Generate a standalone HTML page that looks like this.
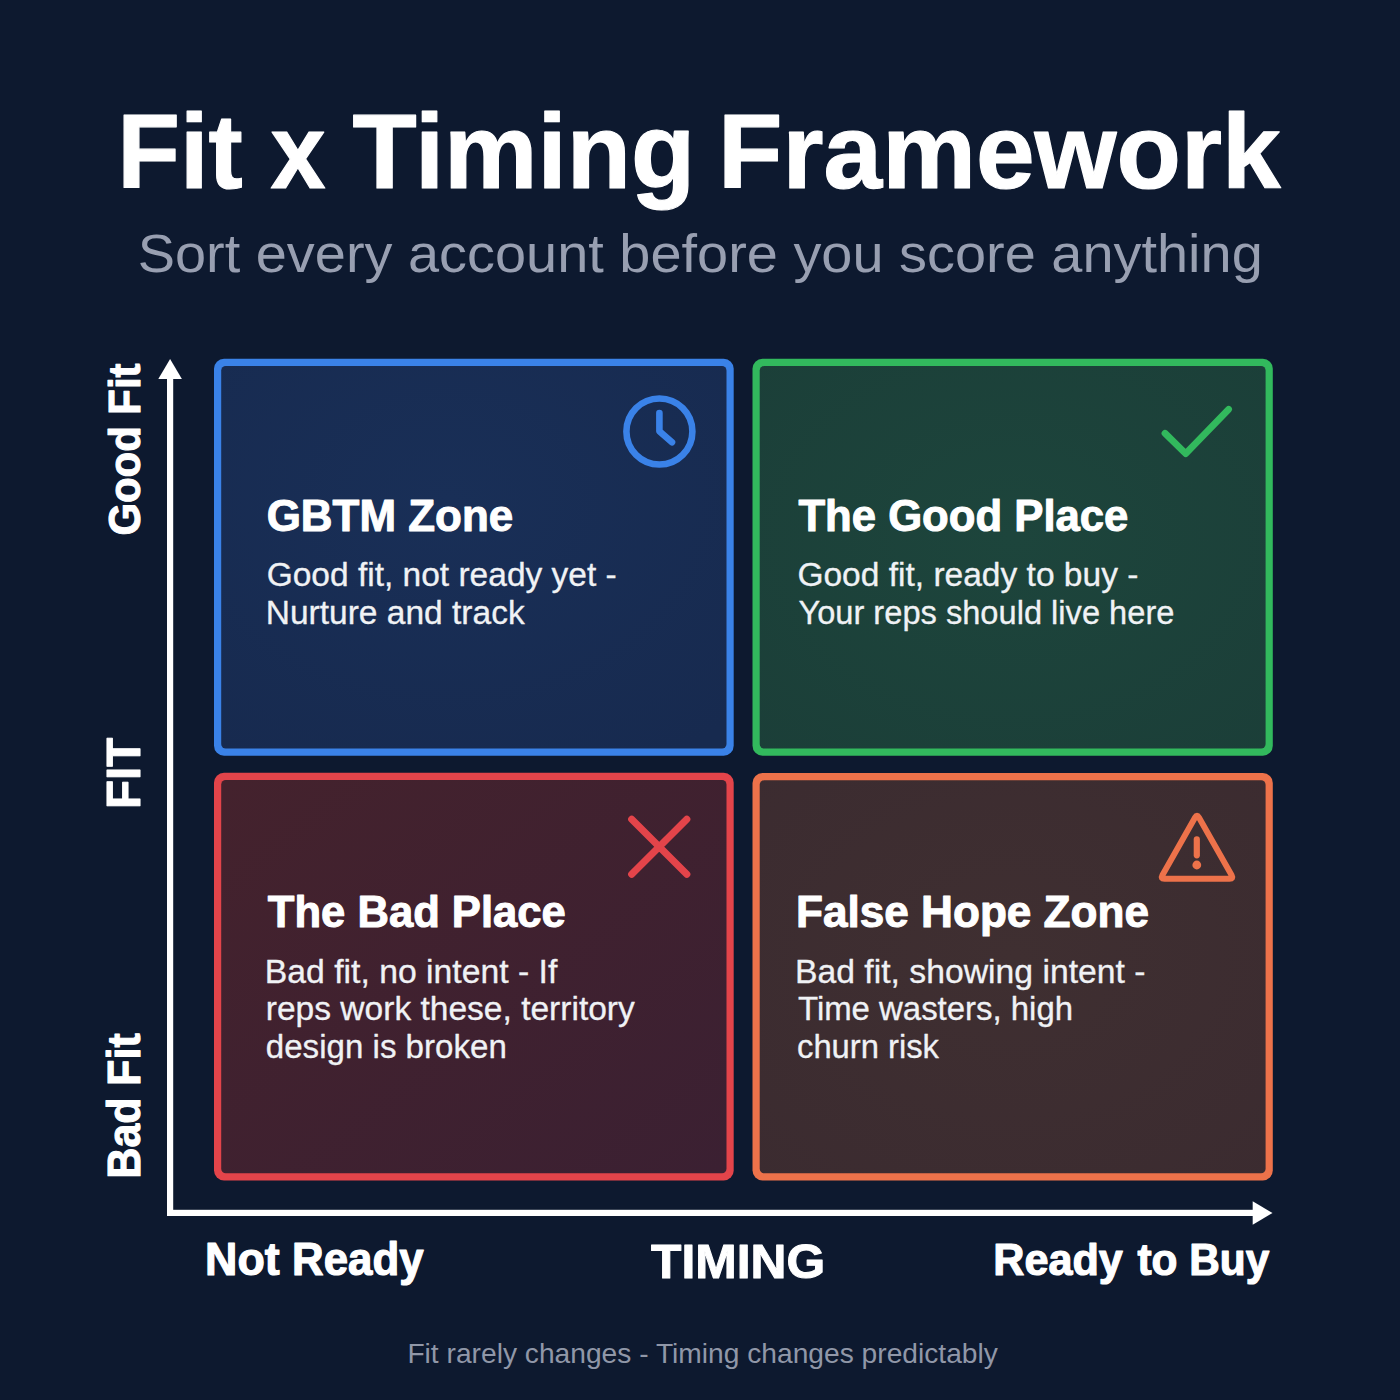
<!DOCTYPE html>
<html><head><meta charset="utf-8"><title>Fit x Timing Framework</title>
<style>
html,body{margin:0;padding:0;background:#0d192f;}
body{width:1400px;height:1400px;overflow:hidden;font-family:"Liberation Sans",sans-serif;}
svg{display:block;font-family:"Liberation Sans",sans-serif;}
</style></head><body>
<svg width="1400" height="1400" viewBox="0 0 1400 1400">
<defs>
<radialGradient id="gb" cx="0.45" cy="0.35" r="0.8"><stop offset="0" stop-color="#192f57"/><stop offset="1" stop-color="#172a4f"/></radialGradient>
<radialGradient id="gg" cx="0.5" cy="0.45" r="0.8"><stop offset="0" stop-color="#1d453c"/><stop offset="1" stop-color="#1b3e38"/></radialGradient>
<linearGradient id="gr" x1="0" y1="0" x2="1" y2="1"><stop offset="0" stop-color="#44222d"/><stop offset="1" stop-color="#3b2032"/></linearGradient>
<radialGradient id="go" cx="0.5" cy="0.45" r="0.8"><stop offset="0" stop-color="#3f2f31"/><stop offset="1" stop-color="#3b2b30"/></radialGradient>
</defs>
<rect width="1400" height="1400" fill="#0d192f"/>
<rect x="214" y="358.8" width="519.7" height="396.9" rx="10" ry="10" fill="#3a82e8"/><rect x="221.2" y="366.0" width="505.3" height="382.5" rx="4.5" ry="4.5" fill="url(#gb)"/>
<rect x="752.5" y="358.8" width="520.3" height="396.9" rx="10" ry="10" fill="#32b95d"/><rect x="759.7" y="366.0" width="505.9" height="382.5" rx="4.5" ry="4.5" fill="url(#gg)"/>
<rect x="214" y="772.8" width="519.7" height="407.6" rx="10" ry="10" fill="#e3444a"/><rect x="221.2" y="780.0" width="505.3" height="393.2" rx="4.5" ry="4.5" fill="url(#gr)"/>
<rect x="752.5" y="773" width="520.3" height="407.4" rx="10" ry="10" fill="#ed724a"/><rect x="759.7" y="780.2" width="505.9" height="393.0" rx="4.5" ry="4.5" fill="url(#go)"/>
<g fill="#ffffff">
<rect x="167" y="375" width="6.2" height="841"/>
<rect x="167" y="1209.8" width="1088" height="6.2"/>
<path d="M170.1 358.9 L181.9 379 L158.3 379 Z"/>
<path d="M1272.5 1213 L1252.7 1201.3 L1252.7 1224.7 Z"/>
</g>
<g fill="none" stroke-linecap="round" stroke-linejoin="round" stroke-width="6.6">
<circle cx="659.4" cy="431.5" r="33" stroke="#3a82e8"/>
<path d="M659.4 413 V431.2 L672 442.3" stroke="#3a82e8"/>
<path d="M1165 433.3 L1185.7 453.6 L1228.6 409.3" stroke="#32b95d" stroke-width="6.8"/>
<path d="M631.7 819.2 L686.8 874.3 M686.8 819.2 L631.7 874.3" stroke="#e3444a" stroke-width="7.1"/>
<path d="M1195.05 817.49 Q1197 814 1198.95 817.49 L1231.65 875.31 Q1233.6 878.8 1229.6 878.8 L1164.4 878.8 Q1160.4 878.8 1162.35 875.31 Z" stroke="#ed724a" stroke-width="5.9"/>
<path d="M1196.8 839.4 V855.3" stroke="#ed724a" stroke-width="6.2"/>
</g>
<circle cx="1196.8" cy="865" r="4.4" fill="#ed724a"/>
<g>
<text x="117.3" y="187.6" font-size="105" font-weight="700" fill="#ffffff" textLength="125.38" lengthAdjust="spacingAndGlyphs" stroke="#ffffff" stroke-width="1.2" stroke-linejoin="round">Fit</text>
<text x="270.4" y="187.6" font-size="105" font-weight="700" fill="#ffffff" textLength="55.03" lengthAdjust="spacingAndGlyphs" stroke="#ffffff" stroke-width="1.2" stroke-linejoin="round">x</text>
<text x="352.6" y="187.6" font-size="105" font-weight="700" fill="#ffffff" textLength="342.64" lengthAdjust="spacingAndGlyphs" stroke="#ffffff" stroke-width="1.2" stroke-linejoin="round">Timing</text>
<text x="718.1" y="187.6" font-size="105" font-weight="700" fill="#ffffff" textLength="562.56" lengthAdjust="spacingAndGlyphs" stroke="#ffffff" stroke-width="1.2" stroke-linejoin="round">Framework</text>
<text x="137.7" y="272.0" font-size="54.5" font-weight="400" fill="#989fb1" textLength="1125.04" lengthAdjust="spacingAndGlyphs">Sort every account before you score anything</text>
<text x="266.7" y="531.0" font-size="43.5" font-weight="700" fill="#ffffff" textLength="246.52" lengthAdjust="spacingAndGlyphs" stroke="#ffffff" stroke-width="1.0" stroke-linejoin="round">GBTM Zone</text>
<text x="266.7" y="586.3" font-size="32.3" font-weight="400" fill="#f0f2f5" textLength="350.02" lengthAdjust="spacingAndGlyphs" stroke="#f0f2f5" stroke-width="0.3" stroke-linejoin="round">Good fit, not ready yet -</text>
<text x="265.7" y="624.3" font-size="32.3" font-weight="400" fill="#f0f2f5" textLength="259.03" lengthAdjust="spacingAndGlyphs" stroke="#f0f2f5" stroke-width="0.3" stroke-linejoin="round">Nurture and track</text>
<text x="798.4" y="530.5" font-size="43.5" font-weight="700" fill="#ffffff" textLength="330.0" lengthAdjust="spacingAndGlyphs" stroke="#ffffff" stroke-width="1.0" stroke-linejoin="round">The Good Place</text>
<text x="797.4" y="586.3" font-size="32.3" font-weight="400" fill="#f0f2f5" textLength="341.02" lengthAdjust="spacingAndGlyphs" stroke="#f0f2f5" stroke-width="0.3" stroke-linejoin="round">Good fit, ready to buy -</text>
<text x="798.4" y="624.3" font-size="32.3" font-weight="400" fill="#f0f2f5" textLength="376.01" lengthAdjust="spacingAndGlyphs" stroke="#f0f2f5" stroke-width="0.3" stroke-linejoin="round">Your reps should live here</text>
<text x="267.8" y="926.5" font-size="43.5" font-weight="700" fill="#ffffff" textLength="298.01" lengthAdjust="spacingAndGlyphs" stroke="#ffffff" stroke-width="1.0" stroke-linejoin="round">The Bad Place</text>
<text x="264.8" y="982.6" font-size="32.3" font-weight="400" fill="#f0f2f5" textLength="292.52" lengthAdjust="spacingAndGlyphs" stroke="#f0f2f5" stroke-width="0.3" stroke-linejoin="round">Bad fit, no intent - If</text>
<text x="265.8" y="1019.9" font-size="32.3" font-weight="400" fill="#f0f2f5" textLength="369.01" lengthAdjust="spacingAndGlyphs" stroke="#f0f2f5" stroke-width="0.3" stroke-linejoin="round">reps work these, territory</text>
<text x="265.8" y="1057.5" font-size="32.3" font-weight="400" fill="#f0f2f5" textLength="241.04" lengthAdjust="spacingAndGlyphs" stroke="#f0f2f5" stroke-width="0.3" stroke-linejoin="round">design is broken</text>
<text x="796.0" y="926.5" font-size="43.5" font-weight="700" fill="#ffffff" textLength="353.02" lengthAdjust="spacingAndGlyphs" stroke="#ffffff" stroke-width="1.0" stroke-linejoin="round">False Hope Zone</text>
<text x="795.0" y="982.6" font-size="32.3" font-weight="400" fill="#f0f2f5" textLength="350.54" lengthAdjust="spacingAndGlyphs" stroke="#f0f2f5" stroke-width="0.3" stroke-linejoin="round">Bad fit, showing intent -</text>
<text x="798.0" y="1019.9" font-size="32.3" font-weight="400" fill="#f0f2f5" textLength="275.01" lengthAdjust="spacingAndGlyphs" stroke="#f0f2f5" stroke-width="0.3" stroke-linejoin="round">Time wasters, high</text>
<text x="797.0" y="1057.5" font-size="32.3" font-weight="400" fill="#f0f2f5" textLength="142.01" lengthAdjust="spacingAndGlyphs" stroke="#f0f2f5" stroke-width="0.3" stroke-linejoin="round">churn risk</text>
<text x="0" y="0" transform="translate(139.6 535.5) rotate(-90)" font-size="45" font-weight="700" fill="#ffffff" textLength="172.01" lengthAdjust="spacingAndGlyphs" stroke="#ffffff" stroke-width="1.1" stroke-linejoin="round">Good Fit</text>
<text x="0" y="0" transform="translate(139.9 808.9) rotate(-90)" font-size="49" font-weight="700" fill="#ffffff" textLength="71.1" lengthAdjust="spacingAndGlyphs" stroke="#ffffff" stroke-width="1.0" stroke-linejoin="round">FIT</text>
<text x="0" y="0" transform="translate(139.5 1178.4) rotate(-90)" font-size="45.5" font-weight="700" fill="#ffffff" textLength="145.05" lengthAdjust="spacingAndGlyphs" stroke="#ffffff" stroke-width="1.1" stroke-linejoin="round">Bad Fit</text>
<text x="205.1" y="1274.8" font-size="46" font-weight="700" fill="#ffffff" textLength="74.58" lengthAdjust="spacingAndGlyphs" stroke="#ffffff" stroke-width="1.2" stroke-linejoin="round">Not</text>
<text x="292.0" y="1274.8" font-size="46" font-weight="700" fill="#ffffff" textLength="131.52" lengthAdjust="spacingAndGlyphs" stroke="#ffffff" stroke-width="1.2" stroke-linejoin="round">Ready</text>
<text x="651.1" y="1278.0" font-size="48.5" font-weight="700" fill="#ffffff" textLength="174.04" lengthAdjust="spacingAndGlyphs" stroke="#ffffff" stroke-width="1.0" stroke-linejoin="round">TIMING</text>
<text x="993.3" y="1275.1" font-size="44.5" font-weight="700" fill="#ffffff" textLength="129.54" lengthAdjust="spacingAndGlyphs" stroke="#ffffff" stroke-width="1.2" stroke-linejoin="round">Ready</text>
<text x="1137.4" y="1275.1" font-size="44.5" font-weight="700" fill="#ffffff" textLength="40.04" lengthAdjust="spacingAndGlyphs" stroke="#ffffff" stroke-width="1.2" stroke-linejoin="round">to</text>
<text x="1189.2" y="1275.1" font-size="44.5" font-weight="700" fill="#ffffff" textLength="80.06" lengthAdjust="spacingAndGlyphs" stroke="#ffffff" stroke-width="1.2" stroke-linejoin="round">Buy</text>
<text x="407.4" y="1363.0" font-size="27.5" font-weight="400" fill="#9097a8" textLength="590.51" lengthAdjust="spacingAndGlyphs">Fit rarely changes - Timing changes predictably</text>
</g>
</svg>
</body></html>
